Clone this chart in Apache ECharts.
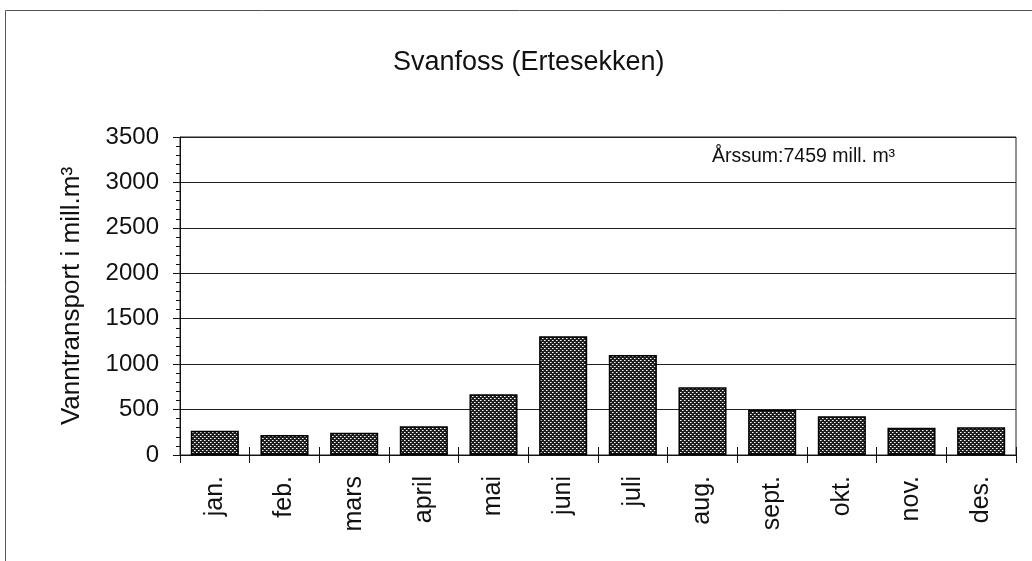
<!DOCTYPE html>
<html>
<head>
<meta charset="utf-8">
<script src="https://cdn.jsdelivr.net/npm/echarts@6/dist/echarts.min.js"></script>
<style>
  html, body { margin: 0; padding: 0; background: #fff; }
  #chart { width: 1032px; height: 561px; }
</style>
</head>
<body>
<div id="chart"></div>
<script>
// månedlig vanntransport, lest av figuren (mill. m³)
const months = ['jan.', 'feb.', 'mars', 'april', 'mai', 'juni', 'juli', 'aug.', 'sept.', 'okt.', 'nov.', 'des.']
const flow = [267, 220, 245, 316, 668, 1306, 1100, 745, 497, 426, 300, 305]
const yTicks = [0, 500, 1000, 1500, 2000, 2500, 3000, 3500]

const chartTitle = 'Svanfoss (Ertesekken)'
const yName = 'Vanntransport i mill.m³'
const yearSum = 'Årssum:7459 mill. m³'

const font = 'Liberation Sans, Arial, sans-serif'

// skravert mønster for søylene
const makePattern = () => {
  const c = document.createElement('canvas')
  c.width = 4
  c.height = 4
  const ctx = c.getContext('2d')
  ctx.fillStyle = '#1e1e1e'
  ctx.fillRect(0, 0, 4, 4)
  ctx.fillStyle = '#ffffff'
  ctx.fillRect(0, 0, 1, 1)
  ctx.fillRect(2, 2, 1, 1)
  ctx.fillStyle = '#9a9a9a'
  ctx.fillRect(1, 0, 1, 1)
  ctx.fillRect(3, 2, 1, 1)
  return c
}

const chart = echarts.init(document.getElementById('chart'))

const option = {
  animation: false,
  backgroundColor: '#fff',
  title: {
    text: chartTitle,
    left: 388,
    top: 44,
    textStyle: { fontFamily: font, fontSize: 27, fontWeight: 'normal', color: '#111' }
  },
  graphic: [
    {
      // ytre ramme
      type: 'rect',
      shape: { x: 5.5, y: 10.5, width: 1100, height: 700 },
      style: { fill: 'none', stroke: '#555', lineWidth: 1 },
      silent: true
    },
    {
      type: 'text',
      left: 712,
      top: 147,
      style: { text: yearSum, fontFamily: font, fontSize: 19.5, fill: '#111' }
    }
  ],
  grid: {
    left: 180,
    right: 16,
    top: 137,
    bottom: 106,
    show: true,
    borderColor: '#222',
    borderWidth: 1
  },
  xAxis: [
    {
      type: 'category',
      data: months,
      axisLine: { lineStyle: { color: '#111', width: 1 } },
      axisTick: { show: true, length: 8, lineStyle: { color: '#111' } },
      axisLabel: {
        rotate: 90,
        margin: 21,
        padding: [16, 0, 0, 0],
        fontFamily: font,
        fontSize: 25,
        color: '#111'
      }
    },
    {
      type: 'category',
      data: months,
      position: 'bottom',
      axisLine: { show: false },
      axisTick: { show: true, inside: true, length: 8, lineStyle: { color: '#111' } },
      axisLabel: { show: false }
    }
  ],
  yAxis: {
    type: 'value',
    min: yTicks[0],
    max: yTicks[yTicks.length - 1],
    interval: 500,
    name: yName,
    nameLocation: 'middle',
    nameGap: 95,
    nameTextStyle: { fontFamily: font, fontSize: 26, color: '#111' },
    axisLine: { show: true, lineStyle: { color: '#111' } },
    axisTick: { show: true, length: 7, lineStyle: { color: '#111' } },
    minorTick: { show: true, splitNumber: 5, length: 4, lineStyle: { color: '#111' } },
    axisLabel: {
      margin: 21,
      fontFamily: font,
      fontSize: 24,
      color: '#111',
      formatter: (v) => String(v)
    },
    splitLine: { lineStyle: { color: '#222', width: 1 } }
  },
  series: [
    {
      type: 'bar',
      data: flow,
      barCategoryGap: '31%',
      itemStyle: {
        color: { image: makePattern(), repeat: 'repeat' },
        borderColor: '#000',
        borderWidth: 1.5
      }
    }
  ]
}

chart.setOption(option)
</script>
</body>
</html>
